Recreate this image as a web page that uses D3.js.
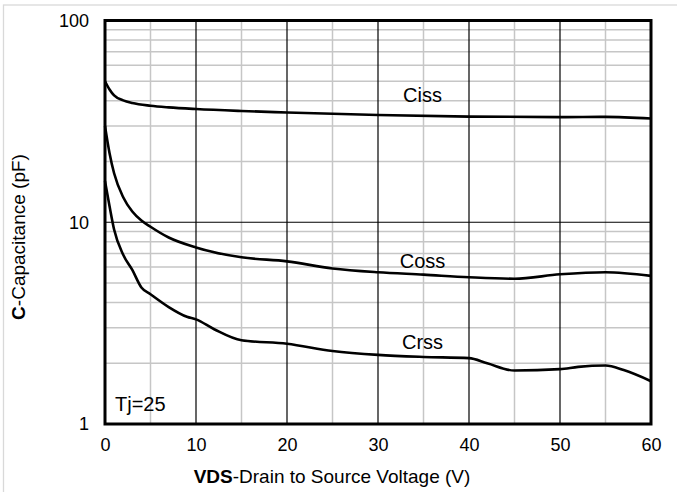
<!DOCTYPE html>
<html>
<head>
<meta charset="utf-8">
<script src="https://cdn.jsdelivr.net/npm/d3@7"></script>
<style>
  body { margin: 0; background: #fff; }
  text { font-family: "Liberation Sans", Arial, sans-serif; fill: #000; }
</style>
</head>
<body>
<div id="vis"></div>
<script>
// values (VDS in V, C in pF)
const vdsCiss = [0, 0.5, 1, 2, 3, 5, 7, 10, 15, 20, 30, 40, 50, 55, 60]
const ciss = [50, 45.5, 42.5, 40.2, 39.0, 37.8, 37.1, 36.4, 35.6, 35.0, 34.0, 33.4, 33.2, 33.3, 32.7]

const vdsCoss = [0, 0.5, 1, 2, 3, 4, 5, 7, 10, 15, 20, 25, 30, 35, 40, 45, 50, 55, 60]
const coss = [30, 22, 17.5, 13.3, 11.3, 10.2, 9.5, 8.4, 7.5, 6.7, 6.4, 5.9, 5.65, 5.5, 5.34, 5.25, 5.52, 5.65, 5.42]

const vdsCrss = [0, 0.5, 1, 2, 3, 4, 5, 7, 9, 10, 12, 15, 20, 25, 30, 35, 40, 42, 45, 50, 52, 55, 57, 60]
const crss = [16, 12, 9.2, 6.9, 5.8, 4.75, 4.4, 3.8, 3.4, 3.3, 2.95, 2.6, 2.5, 2.3, 2.2, 2.15, 2.12, 2.0, 1.84, 1.87, 1.92, 1.95, 1.85, 1.63]

const xTicks = [0, 10, 20, 30, 40, 50, 60]
const xMinorTicks = [5, 15, 25, 35, 45, 55]
const yTicks = [1, 10, 100]
const yMinorTicks = [2, 3, 4, 5, 6, 7, 8, 9, 20, 30, 40, 50, 60, 70, 80, 90]

const width = 677
const height = 492
const plotLeft = 105, plotRight = 651, plotTop = 20.5, plotBottom = 424

const svg = d3.select("#vis")
    .append("svg")
    .attr("width", width)
    .attr("height", height)

// light outer frame
svg.append("rect")
    .attr("x", 3.5).attr("y", 5)
    .attr("width", 690).attr("height", 500)
    .attr("fill", "none")
    .attr("stroke", "#d9d9d9")
    .attr("stroke-width", 1.3)

const x = d3.scaleLinear().domain([0, 60]).range([plotLeft, plotRight])
const y = d3.scaleLog().domain([1, 100]).range([plotBottom, plotTop])

// minor grid
svg.append("g").selectAll("line")
    .data(xMinorTicks).enter().append("line")
    .attr("x1", d => x(d)).attr("x2", d => x(d))
    .attr("y1", plotTop).attr("y2", plotBottom)
    .attr("stroke", "#c6c6c6").attr("stroke-width", 1.5)

svg.append("g").selectAll("line")
    .data(yMinorTicks).enter().append("line")
    .attr("x1", plotLeft).attr("x2", plotRight)
    .attr("y1", d => y(d)).attr("y2", d => y(d))
    .attr("stroke", "#c6c6c6").attr("stroke-width", 1.5)

// major grid
svg.append("g").selectAll("line")
    .data(xTicks.slice(1, -1)).enter().append("line")
    .attr("x1", d => x(d)).attr("x2", d => x(d))
    .attr("y1", plotTop).attr("y2", plotBottom)
    .attr("stroke", "#000").attr("stroke-width", 1.2)

svg.append("g").selectAll("line")
    .data(yTicks.slice(1, -1)).enter().append("line")
    .attr("x1", plotLeft).attr("x2", plotRight)
    .attr("y1", d => y(d)).attr("y2", d => y(d))
    .attr("stroke", "#000").attr("stroke-width", 1.2)

// curves
const line = d3.line()
    .x(d => x(d[0]))
    .y(d => y(d[1]))
    .curve(d3.curveMonotoneX)

const series = [
    d3.zip(vdsCiss, ciss),
    d3.zip(vdsCoss, coss),
    d3.zip(vdsCrss, crss)
]

svg.append("g").selectAll("path")
    .data(series).enter().append("path")
    .attr("d", line)
    .attr("fill", "none")
    .attr("stroke", "#000")
    .attr("stroke-width", 2.6)
    .attr("stroke-linejoin", "round")

// plot frame
svg.append("rect")
    .attr("x", plotLeft).attr("y", plotTop)
    .attr("width", plotRight - plotLeft).attr("height", plotBottom - plotTop)
    .attr("fill", "none")
    .attr("stroke", "#000")
    .attr("stroke-width", 3)

// axes (tick labels only)
const xAxis = svg.append("g")
    .attr("transform", `translate(0, ${plotBottom})`)
    .call(d3.axisBottom(x).tickValues(xTicks).tickSize(0).tickPadding(14))
xAxis.select(".domain").remove()
xAxis.selectAll("text").attr("font-size", 18).attr("font-family", null)

const yAxis = svg.append("g")
    .attr("transform", `translate(${plotLeft}, 0)`)
    .call(d3.axisLeft(y).tickValues(yTicks).tickFormat(d3.format("d")).tickSize(0).tickPadding(16))
yAxis.select(".domain").remove()
yAxis.selectAll("text").attr("font-size", 18).attr("font-family", null)

// curve labels
const labels = ["Ciss", "Coss", "Crss"]
const labelV = 35
const labelY = [101.7, 268, 349]
svg.append("g").selectAll("text")
    .data(labels).enter().append("text")
    .attr("x", x(labelV) - 1)
    .attr("y", (d, i) => labelY[i])
    .attr("text-anchor", "middle")
    .attr("font-size", 20)
    .text(d => d)

svg.append("text")
    .attr("x", 115).attr("y", 410.5)
    .attr("font-size", 20)
    .text("Tj=25")

// axis titles
const xTitle = svg.append("text")
    .attr("x", 332).attr("y", 483)
    .attr("text-anchor", "middle")
    .attr("font-size", 19)
xTitle.append("tspan").attr("font-weight", "bold").text("VDS")
xTitle.append("tspan").text("-Drain to Source Voltage (V)")

const yTitle = svg.append("text")
    .attr("transform", "translate(25, 237) rotate(-90)")
    .attr("text-anchor", "middle")
    .attr("font-size", 19)
yTitle.append("tspan").attr("font-weight", "bold").text("C")
yTitle.append("tspan").text("-Capacitance (pF)")
</script>
</body>
</html>
